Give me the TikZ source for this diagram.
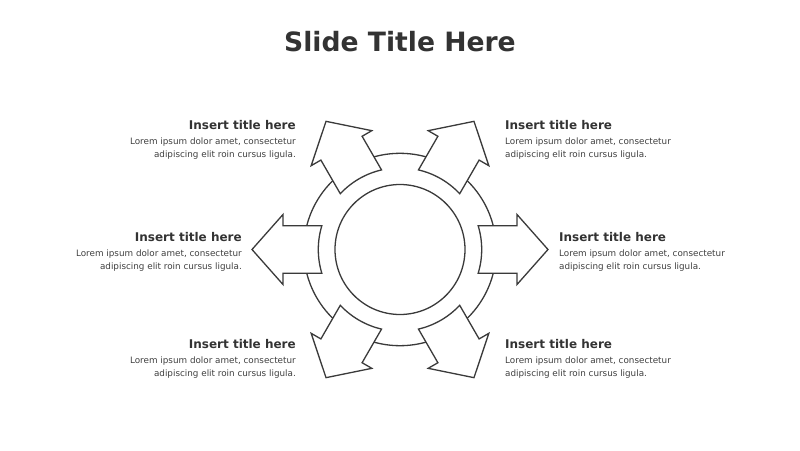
\documentclass[tikz,border=0pt]{standalone}
\usepackage{fontspec}
\setmainfont{DejaVu Sans}
\usepackage{xcolor}
\usetikzlibrary{positioning}
\definecolor{linegray}{HTML}{3A3A3A}
\definecolor{titlegray}{HTML}{333333}
\definecolor{textgray}{HTML}{3F3F3F}

\begin{document}
\begin{tikzpicture}[x=1pt, y=1pt,
  ring/.style={draw=linegray, line width=1.3pt},
  arrowshape/.style={draw=linegray, fill=white, line width=1.3pt, line join=miter},
  blocktitle/.style={inner sep=0pt, text=titlegray, font=\fontsize{12}{14}\selectfont\bfseries},
  blocktext/.style={inner sep=0pt, text=textgray, font=\fontsize{8.8}{12.6}\selectfont}]
  \useasboundingbox (-400,-200.5) rectangle (400,249.5);

  % Title
  \node[text=titlegray, font=\fontsize{26.6}{32}\selectfont\bfseries, anchor=base] (title)
    at (0,197.5) {Slide Title Here};

  % Ring
  \draw[ring] (0,0) circle (96.2pt);
  \draw[ring] (0,0) circle (65pt);

  % Arrows (0 = right, going round)
  \foreach \a in {0,60,120,180,240,300} {
    \begin{scope}[rotate=\a]
      \draw[arrowshape] (-16.94:81.7) arc[start angle=-16.94, end angle=16.94, radius=81.7pt]
        -- (117,23.8) -- (117,35) -- (148,0) -- (117,-35) -- (117,-23.8) -- cycle;
    \end{scope}
  }

  % Text blocks
  \foreach \n/\x/\y/\side/\al in {ul/-104/119.8/east/right, ml/-158/7.8/east/right,
      ll/-104/-99.2/east/right, ur/105/119.8/west/left, mr/159/7.8/west/left,
      lr/105/-99.2/west/left} {
    \node[blocktitle, anchor=base \side] (t\n) at (\x,\y) {Insert title here};
    \node[blocktext, anchor=north \side, align=\al] (d\n) at ([yshift=-8.3pt]t\n.base \side)
      {Lorem ipsum dolor amet, consectetur\\adipiscing elit roin cursus ligula.};
  }
\end{tikzpicture}
\end{document}
